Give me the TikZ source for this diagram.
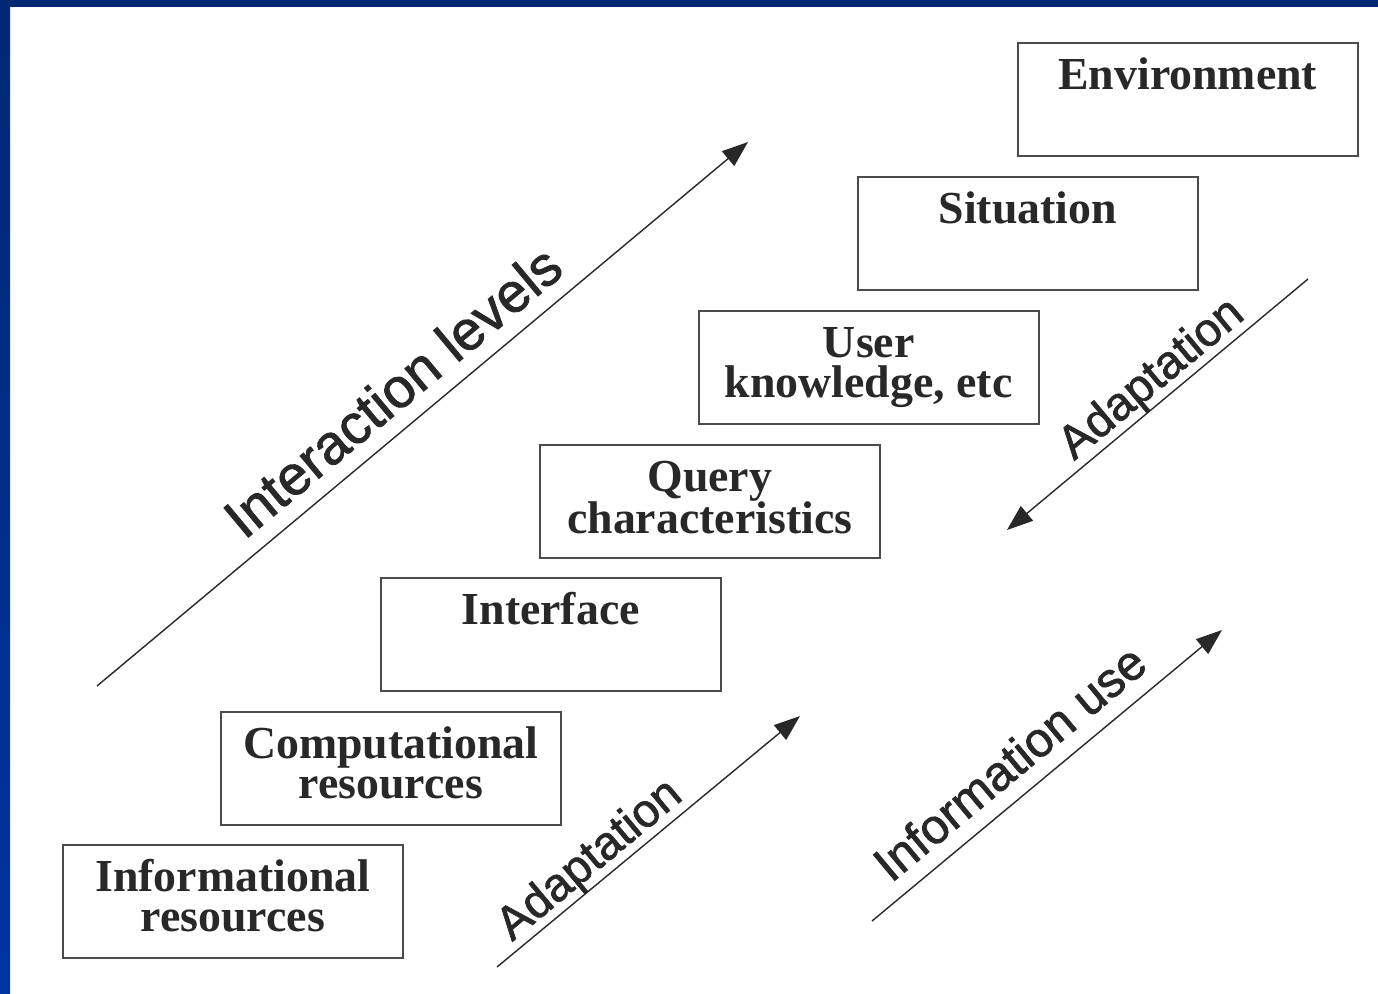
\documentclass[tikz,border=0pt]{standalone}
\usepackage{fontspec}
\setmainfont{Liberation Serif}
\newfontfamily\lblfont[FakeBold=1.5]{Liberation Sans}
\usetikzlibrary{arrows.meta,calc}
\definecolor{framedark}{RGB}{0,40,115}
\definecolor{framelight}{RGB}{0,52,160}
\definecolor{ink}{RGB}{40,40,40}
\definecolor{boxline}{RGB}{75,75,75}

\begin{document}
\begin{tikzpicture}[x=1bp,y=-1bp,
  stagebox/.style={draw=boxline, line width=1.5bp, minimum width=340bp,
    minimum height=113bp, inner sep=0pt, anchor=north west},
  stagetext/.style={anchor=north, align=center, inner sep=0pt, text=ink,
    font=\fontsize{46}{40}\selectfont\bfseries},
  flow/.style={draw=ink, line width=1.4bp, -{Triangle[length=26bp,width=19bp]}},
  flowlabel/.style={anchor=south, rotate=39.8, inner sep=2bp, text=ink,
    font=\lblfont\fontsize{47}{50}\selectfont}]

% page and frame
\useasboundingbox (0,0) rectangle (1378,993);
\fill[white] (0,0) rectangle (1378,993);
\shade[top color=framedark, bottom color=framelight] (0,0) rectangle (10,993);
\fill[framedark] (0,0) rectangle (1378,7);

% stages, from resources up to environment
\node[stagebox] (info) at (62,844) {};
\node[stagebox] (comp) at (220,711) {};
\node[stagebox] (intf) at (380,577) {};
\node[stagebox] (query) at (539,444) {};
\node[stagebox] (user) at (698,310) {};
\node[stagebox] (sit) at (857,176) {};
\node[stagebox] (env) at (1017,42) {};

\node[stagetext] (infot) at ($(info.north)+(0,12)$) {\rule{0pt}{35bp}Informational\\resources};
\node[stagetext] (compt) at ($(comp.north)+(0,12)$) {\rule{0pt}{35bp}Computational\\resources};
\node[stagetext] (intft) at ($(intf.north)+(0,12)$) {\rule{0pt}{35bp}Interface};
\node[stagetext] (queryt) at ($(query.north)+(0,12)$) {\rule{0pt}{35bp}Query\\characteristics};
\node[stagetext] (usert) at ($(user.north)+(0,12)$) {\rule{0pt}{35bp}User\\knowledge, etc};
\node[stagetext] (sitt) at ($(sit.north)+(0,12)$) {\rule{0pt}{35bp}Situation};
\node[stagetext] (envt) at ($(env.north)+(0,12)$) {\rule{0pt}{35bp}Environment};

% diagonal arrows
\coordinate (ilA) at (97,686);   \coordinate (ilB) at (748,142);
\coordinate (adA) at (1308,279); \coordinate (adB) at (1007,530);
\coordinate (abA) at (497,967);  \coordinate (abB) at (800,716);
\coordinate (iuA) at (872,921);  \coordinate (iuB) at (1222,630);

\draw[flow] (ilA) -- (ilB);
\draw[flow] (adA) -- (adB);
\draw[flow] (abA) -- (abB);
\draw[flow] (iuA) -- (iuB);

\node[flowlabel, inner sep=16bp, font=\lblfont\fontsize{56}{60}\selectfont] (ilt) at ($(ilA)!0.49!(ilB)$) {Interaction levels};
\node[flowlabel, inner sep=0pt] (adt) at ($(adA)!0.47!(adB)$) {Adaptation};
\node[flowlabel, inner sep=0pt] (abt) at ($(abA)!0.355!(abB)$) {Adaptation};
\node[flowlabel, inner sep=16bp, font=\lblfont\fontsize{49}{50}\selectfont] (iut) at ($(iuA)!0.455!(iuB)$) {Information use};
\end{tikzpicture}
\end{document}
